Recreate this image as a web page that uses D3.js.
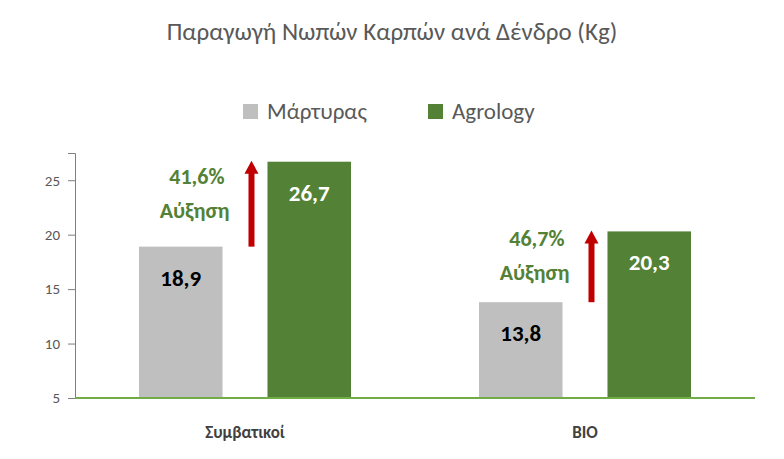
<!DOCTYPE html>
<html><head><meta charset="utf-8">
<script src="https://cdn.jsdelivr.net/npm/d3@7"></script>
<style>body{margin:0;background:#fff}text{font-family:Calibri,Carlito,"Open Sans",sans-serif}</style>
</head><body><svg width="784" height="459"></svg>
<script>
const categories = ["Συμβατικοί", "BIO"];
const series = ["Μάρτυρας", "Agrology"];
const controlValues = [18.9, 13.8];
const agrologyValues = [26.7, 20.3];
const increaseLabels = ["41,6%", "46,7%"];
const yTicks = [5, 10, 15, 20, 25];
const colors = ["#bfbfbf", "#538135"];

const svg = d3.select("svg");
const margin = {left: 75, right: 29, top: 153, bottom: 61};
const width = 784 - margin.left - margin.right;
const height = 459 - margin.top - margin.bottom;
const g = svg.append("g").attr("transform", `translate(${margin.left},${margin.top})`);

const x = d3.scaleBand().domain(categories).range([0, width]);
const xs = d3.scaleBand().domain(series).range([64, x.bandwidth() - 64]).paddingInner(0.35);
const y = d3.scaleLinear().domain([5, 27.5]).range([height, 0]);

svg.append("text").attr("x", 392).attr("y", 40).attr("text-anchor", "middle")
  .attr("font-size", 25).attr("fill", "#595959").text("Παραγωγή Νωπών Καρπών ανά Δένδρο (Kg)");

// legend
const leg = [{x: 243, t: series[0]}, {x: 428, t: series[1]}];
leg.forEach((l, i) => {
  svg.append("rect").attr("x", l.x).attr("y", 104).attr("width", 15).attr("height", 15).attr("fill", colors[i]);
  svg.append("text").attr("x", l.x + 24).attr("y", 119).attr("font-size", 23).attr("fill", "#595959").text(l.t);
});

// y axis
const ya = g.append("g").call(d3.axisLeft(y).tickValues(yTicks).tickSize(7).tickPadding(8));
ya.select(".domain").attr("stroke", "#7f7f7f");
ya.selectAll(".tick line").attr("stroke", "#7f7f7f");
ya.selectAll("text").attr("font-size", 15).attr("fill", "#595959").style("font-family", "Calibri,Carlito,'Open Sans',sans-serif");

const data = categories.map((c, i) => ({c, vals: [controlValues[i], agrologyValues[i]], inc: increaseLabels[i]}));
const grp = g.selectAll(".cat").data(data).join("g").attr("transform", d => `translate(${x(d.c)},0)`);

grp.selectAll("rect").data(d => d.vals.map((v, k) => ({v, k})))
  .join("rect").attr("x", d => xs(series[d.k])).attr("width", xs.bandwidth())
  .attr("y", d => y(d.v)).attr("height", d => height - y(d.v)).attr("fill", d => colors[d.k]);

grp.selectAll(".val").data(d => d.vals.map((v, k) => ({v, k})))
  .join("text").attr("text-anchor", "middle")
  .attr("x", d => xs(series[d.k]) + xs.bandwidth() / 2).attr("y", d => y(d.v) + 39)
  .attr("font-size", 23).attr("font-weight", "bold")
  .attr("fill", d => d.k ? "#fff" : "#000").text(d => String(d.v).replace(".", ","));

// red arrows
grp.each(function(d) {
  const gg = d3.select(this);
  const ax = xs(series[1]) - 16;
  const yb = y(d.vals[0]), yt = y(d.vals[1]) - 1;
  gg.append("rect").attr("x", ax - 3).attr("y", yt + 12).attr("width", 6).attr("height", yb - yt - 12).attr("fill", "#c00000");
  gg.append("path").attr("d", `M${ax - 7},${yt + 13}L${ax},${yt}L${ax + 7},${yt + 13}Z`).attr("fill", "#c00000");
  const lx = ax - 27;
  const ly = (yb + yt) / 2;
  gg.append("text").attr("x", lx).attr("y", ly - 20).attr("text-anchor", "end").attr("font-size", 22)
    .attr("font-weight", "bold").attr("fill", "#538135").text(d.inc);
  gg.append("text").attr("x", lx + 5).attr("y", ly + 14).attr("text-anchor", "end").attr("font-size", 22)
    .attr("font-weight", "bold").attr("fill", "#538135").text("Αύξηση");
});

// x axis
g.append("line").attr("x1", 0).attr("x2", width).attr("y1", height).attr("y2", height).attr("stroke", "#70ad47").attr("stroke-width", 2);
g.selectAll(".xl").data(categories).join("text").attr("x", d => x(d) + x.bandwidth() / 2).attr("y", height + 40)
  .attr("text-anchor", "middle").attr("font-size", 17).attr("font-weight", "bold").attr("fill", "#404040").text(d => d);
</script></body></html>
